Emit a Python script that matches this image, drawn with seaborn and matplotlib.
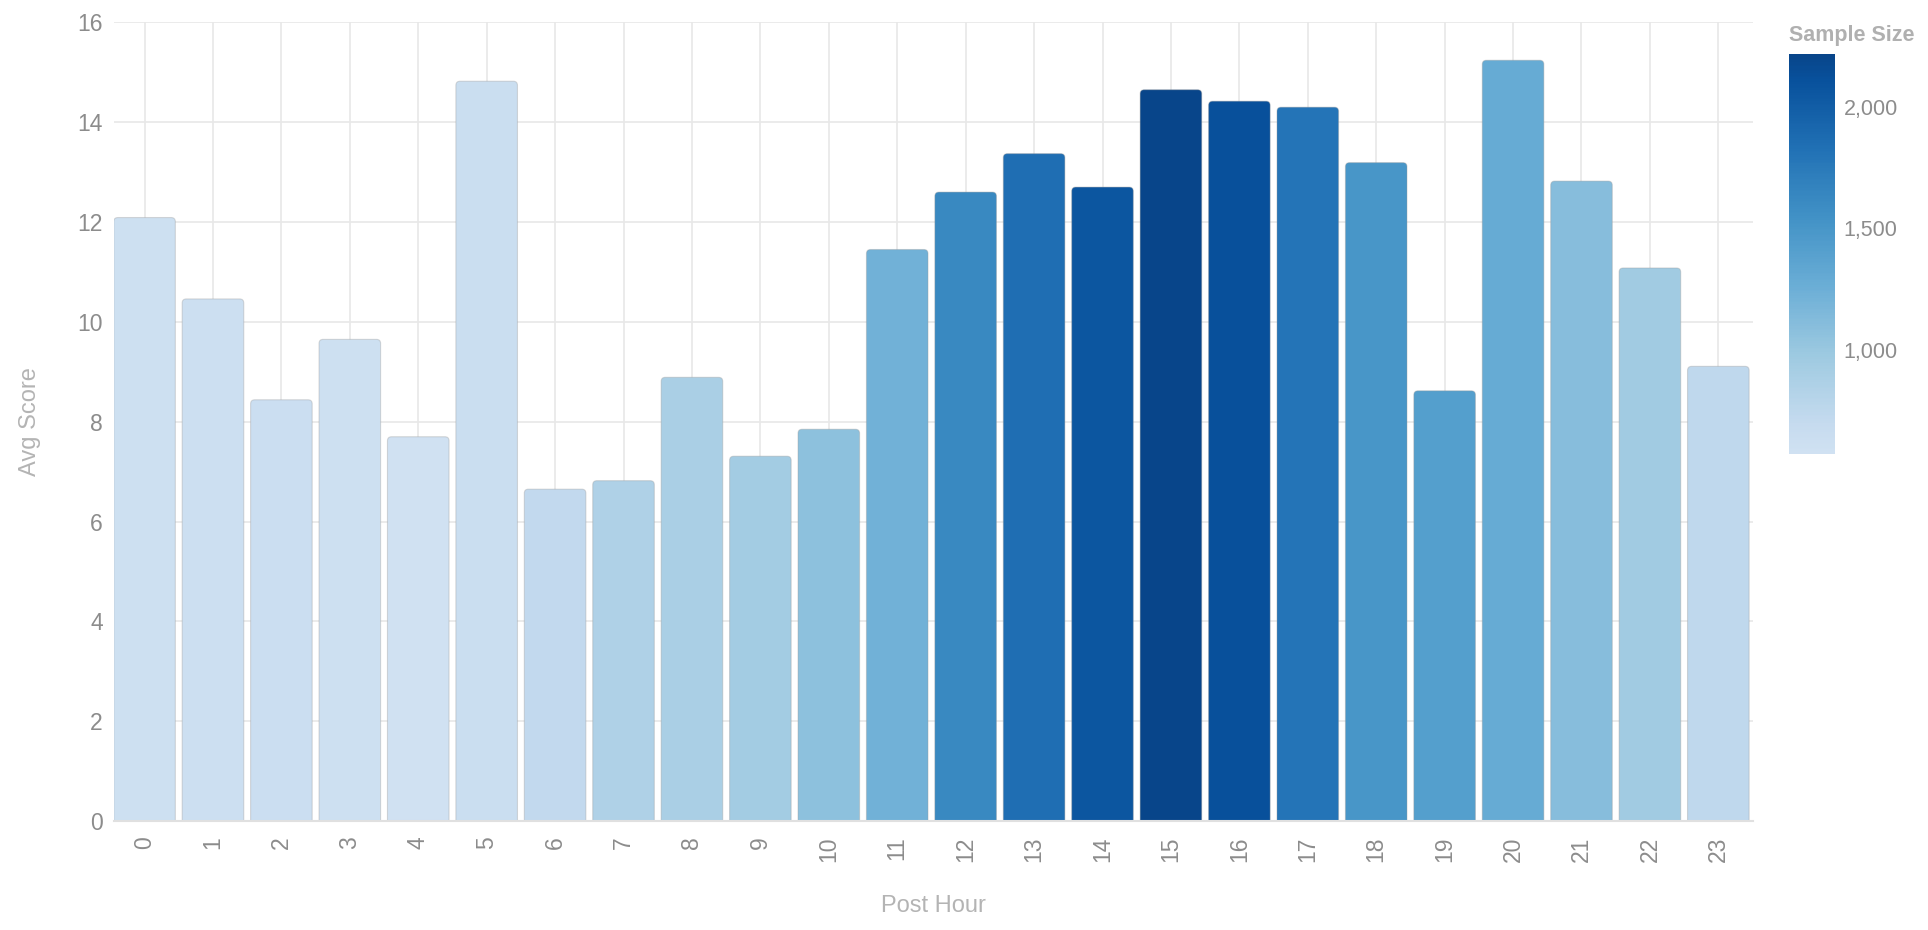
import numpy as np
import pandas as pd
import seaborn as sns
import matplotlib
matplotlib.use("Agg")
import matplotlib.pyplot as plt
from matplotlib.colors import LinearSegmentedColormap, Normalize
from matplotlib.cm import ScalarMappable
from matplotlib.patches import FancyBboxPatch
from matplotlib.ticker import FuncFormatter

# data
hours = list(range(24))
avg_score = [12.09, 10.46, 8.44, 9.65, 7.70, 14.82, 6.65, 6.82, 8.89, 7.31, 7.85, 11.45,
             12.60, 13.37, 12.70, 14.65, 14.42, 14.30, 13.19, 8.62, 15.24, 12.82, 11.08, 9.11]
sample_size = [600, 620, 630, 600, 570, 640, 720, 850, 890, 940, 1060, 1230,
               1620, 1850, 2060, 2220, 2120, 1800, 1500, 1420, 1290, 1100, 950, 740]
cbar_ticks = [1000, 1500, 2000]

df = pd.DataFrame({"hour": [str(h) for h in hours], "score": avg_score, "n": sample_size})

sns.set_theme(style="white")
plt.rcParams["font.family"] = ["Liberation Sans", "DejaVu Sans"]

blues = plt.get_cmap("Blues")
cmap = LinearSegmentedColormap.from_list("blues_cut", blues(np.linspace(0.2, 0.92, 256)))
norm = Normalize(vmin=min(sample_size), vmax=max(sample_size))
palette = {h: cmap(norm(n)) for h, n in zip(df["hour"], df["n"])}

fig = plt.figure(figsize=(19.28, 9.3), dpi=100)
ax = fig.add_axes([0.059, 0.117, 0.850, 0.859])

sns.barplot(data=df, x="hour", y="score", hue="hour", palette=palette,
            legend=False, width=0.9, saturation=1, ax=ax)

# swap plain bars for ones with rounded tops
for p in list(ax.patches):
    x, w, h = p.get_x(), p.get_width(), p.get_height()
    fc = p.get_facecolor()
    p.remove()
    ax.add_patch(FancyBboxPatch((x, -0.3), w, h + 0.3,
                                boxstyle="round,pad=0,rounding_size=0.06",
                                mutation_aspect=1.36, facecolor=fc,
                                edgecolor=(0.6, 0.6, 0.6, 0.35), linewidth=0.8))

ax.set_xlim(-0.45, 23.5)
ax.set_ylim(0, 16)
ax.set_yticks(range(0, 17, 2))
ax.set_axisbelow(True)
ax.grid(True, color="#e8e8e8", linewidth=1.2)
sns.despine(ax=ax, left=True, top=True, right=True)
ax.spines["bottom"].set_color("#e0e0e0")
ax.spines["bottom"].set_linewidth(1.5)

ax.tick_params(axis="both", length=0, labelsize=16.5, labelcolor="#8c8c8c")
ax.tick_params(axis="y", pad=8)
ax.tick_params(axis="x", pad=11)
plt.setp(ax.get_xticklabels(), rotation=90)

narrow = ["Liberation Sans Narrow", "Liberation Sans", "DejaVu Sans"]
ax.set_xlabel("Post Hour", fontsize=17, color="#b4b4b4", family=narrow, labelpad=24)
ax.set_ylabel("Avg Score", fontsize=17, color="#b4b4b4", family=narrow, labelpad=26)

cax = fig.add_axes([0.928, 0.512, 0.024, 0.430])
cb = fig.colorbar(ScalarMappable(norm=norm, cmap=cmap), cax=cax)
cb.outline.set_visible(False)
cb.set_ticks(cbar_ticks)
cb.ax.yaxis.set_major_formatter(FuncFormatter(lambda v, _: f"{int(v):,}"))
cb.ax.tick_params(length=0, labelsize=15.5, labelcolor="#8c8c8c", pad=6)
fig.text(0.928, 0.962, "Sample Size", fontsize=15.5, fontweight="bold",
         color="#b0b0b0", ha="left", va="center")

fig.savefig("out.png", dpi=100, facecolor="white")
